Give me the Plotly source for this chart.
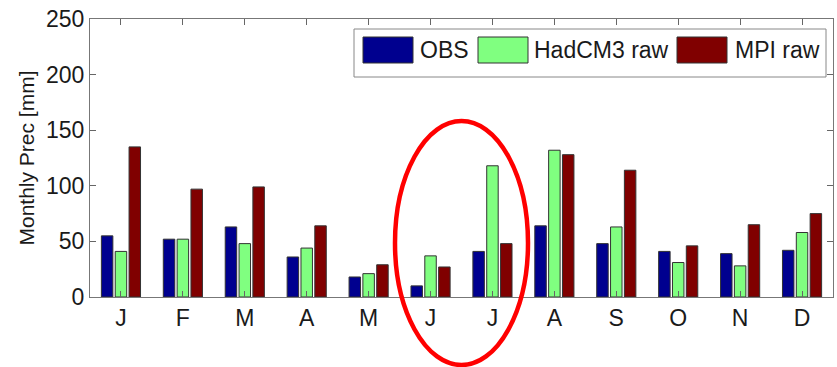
import plotly.graph_objects as go

months = ["J", "F", "M", "A", "M", "J", "J", "A", "S", "O", "N", "D"]
obs = [55, 52, 63, 36, 18, 10, 41, 64, 48, 41, 39, 42]
hadcm3 = [41, 52, 48, 44, 21, 37, 118, 132, 63, 31, 28, 58]
mpi = [135, 97, 99, 64, 29, 27, 48, 128, 114, 46, 65, 75]
series_names = ["OBS", "HadCM3 raw", "MPI raw"]
series_colors = ["#00008F", "#80FF80", "#800000"]
y_ticks = [0, 50, 100, 150, 200, 250]

W, H = 837, 367
L, R, T, B = 90, 4, 19, 70
pw, ph = W - L - R, H - T - B

def px(x):
    return (x - L) / pw

def py(y):
    return (H - B - y) / ph

FONT = "Liberation Sans, Arial, Helvetica, sans-serif"
xs = list(range(len(months)))

fig = go.Figure()
for name, vals, col in zip(series_names, [obs, hadcm3, mpi], series_colors):
    fig.add_trace(go.Bar(x=xs, y=vals, name=name, marker_color=col,
                         marker_line_color="#333333", marker_line_width=1,
                         showlegend=False))

shapes = []
annotations = []
# custom legend box
shapes.append(dict(type="rect", xref="paper", yref="paper",
                   x0=px(354), x1=px(826), y0=py(77), y1=py(29),
                   line=dict(color="#888888", width=1), fillcolor="white", layer="above"))
sw_left = [363, 478, 677]
txt_left = [418, 532, 733]
for i, (name, col) in enumerate(zip(series_names, series_colors)):
    shapes.append(dict(type="rect", xref="paper", yref="paper",
                       x0=px(sw_left[i]), x1=px(sw_left[i] + 50), y0=py(63), y1=py(37),
                       line=dict(color="#333333", width=1), fillcolor=col, layer="above"))
    annotations.append(dict(xref="paper", yref="paper", x=px(txt_left[i]), y=py(50),
                            text=name, showarrow=False, xanchor="left", yanchor="middle",
                            font=dict(family=FONT, size=23, color="#1a1a1a")))
# red ellipse
shapes.append(dict(type="circle", xref="paper", yref="paper",
                   x0=px(395), x1=px(528), y0=py(365), y1=py(121),
                   line=dict(color="#FF0000", width=4.5), layer="above"))

fig.update_layout(
    width=W, height=H,
    margin=dict(l=L, r=R, t=T, b=B),
    paper_bgcolor="white", plot_bgcolor="white",
    barmode="group", bargap=0.33, bargroupgap=0.17,
    shapes=shapes, annotations=annotations,
    font=dict(family=FONT, color="#1a1a1a"),
)
fig.update_xaxes(range=[-0.5, len(months) - 0.5], tickmode="array", tickvals=xs,
                 ticktext=months, ticks="inside", ticklen=6, tickcolor="#666666",
                 showline=True, linecolor="#777777", linewidth=1, mirror="ticks",
                 showgrid=False, zeroline=False,
                 tickfont=dict(family=FONT, size=23, color="#1a1a1a"))
fig.update_yaxes(range=[0, 250], tickmode="array", tickvals=y_ticks,
                 ticks="inside", ticklen=6, tickcolor="#666666",
                 showline=True, linecolor="#777777", linewidth=1, mirror="ticks",
                 showgrid=False, zeroline=False,
                 tickfont=dict(family=FONT, size=23, color="#1a1a1a"),
                 title=dict(text="Monthly Prec [mm]", standoff=5,
                            font=dict(family=FONT, size=21, color="#1a1a1a")))

fig.write_html("out.html")
